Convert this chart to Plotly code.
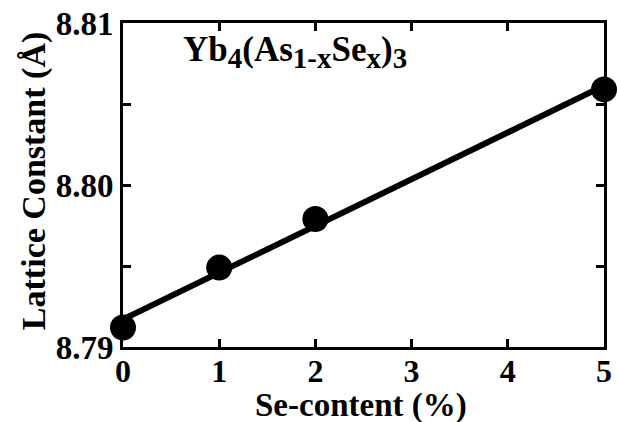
import numpy as np
import plotly.graph_objects as go

se_content = [0, 1, 2, 5]
lattice_const = [8.7912, 8.7949, 8.7979, 8.8059]
x_ticks = [0, 1, 2, 3, 4, 5]
y_ticks = [8.79, 8.80, 8.81]
y_tick_labels = ["8.79", "8.80", "8.81"]

coef = np.polyfit(se_content, lattice_const, 1)
fit_x = [min(se_content), max(se_content)]
fit_y = [float(np.polyval(coef, v)) for v in fit_x]

FONT = "Liberation Serif"

def sub(t):
    return f"<sub><span style='font-size:29px'>{t}</span></sub>"

formula = f"<b>Yb{sub('4')}(As{sub('1-x')}Se{sub('x')}){sub('3')}</b>"

fig = go.Figure()
fig.add_trace(go.Scatter(x=fit_x, y=fit_y, mode="lines",
                         line=dict(color="black", width=6),
                         cliponaxis=False, showlegend=False))
fig.add_trace(go.Scatter(x=se_content, y=lattice_const, mode="markers",
                         marker=dict(color="black", size=26),
                         cliponaxis=False, showlegend=False))

fig.update_layout(
    width=617, height=422,
    margin=dict(l=123, r=13, t=23, b=75),
    plot_bgcolor="white", paper_bgcolor="white",
    font=dict(family=FONT, color="black", size=33),
    annotations=[
        dict(text=formula, xref="paper", yref="paper", x=0.12, y=0.91,
             xanchor="left", yanchor="middle", showarrow=False,
             font=dict(family=FONT, size=35, color="black")),
        dict(text="<b>Se-content (%)</b>", xref="paper", yref="paper",
             x=0.495, y=-0.18, xanchor="center", yanchor="middle", showarrow=False,
             font=dict(family=FONT, size=33, color="black")),
        dict(text="<b>Lattice Constant (Å)</b>", xref="paper", yref="paper",
             x=-0.185, y=0.512, xanchor="center", yanchor="middle", showarrow=False,
             textangle=-90, font=dict(family=FONT, size=34, color="black")),
    ],
)
fig.update_xaxes(
    range=[0, 5], tickvals=x_ticks, ticktext=[f"<b>{v}</b>" for v in x_ticks],
    ticks="inside", ticklen=8, tickwidth=3, tickcolor="black",
    showline=True, linewidth=3, linecolor="black", mirror="ticks",
    showgrid=False, zeroline=False, automargin=False,
    ticklabelstandoff=-6,
    tickfont=dict(family=FONT, size=32),
)
fig.update_yaxes(
    range=[8.79, 8.81], tickvals=y_ticks, ticktext=[f"<b>{t}</b>" for t in y_tick_labels],
    ticks="inside", ticklen=8, tickwidth=3, tickcolor="black",
    minor=dict(dtick=0.005, tick0=8.79, ticks="inside", ticklen=8, tickwidth=3, tickcolor="black", showgrid=False),
    showline=True, linewidth=3, linecolor="black", mirror="ticks",
    showgrid=False, zeroline=False, automargin=False,
    tickfont=dict(family=FONT, size=33),
)

fig.write_html("out.html")
